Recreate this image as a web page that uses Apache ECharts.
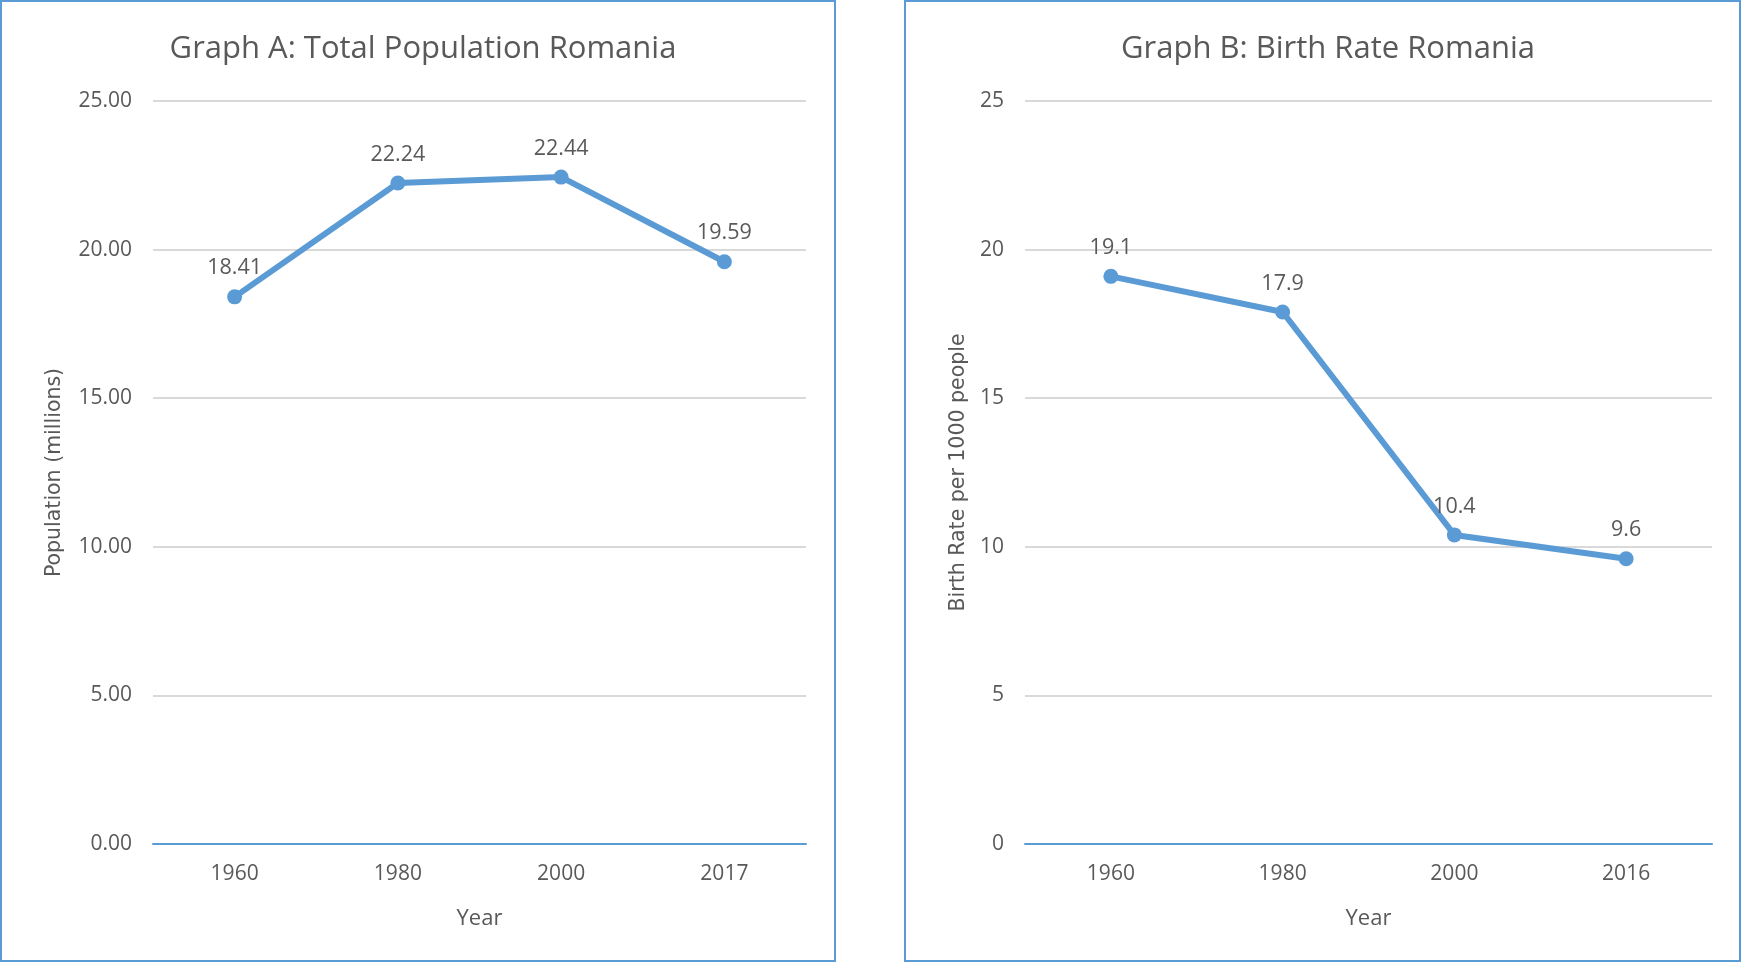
<!DOCTYPE html>
<html>
<head>
<meta charset="utf-8">
<title>Romania: population and birth rate</title>
<script src="https://cdn.jsdelivr.net/npm/echarts@6/dist/echarts.min.js"></script>
<style>
  html, body { margin: 0; padding: 0; background: #fff; }
  #chart { width: 1742px; height: 964px; }
</style>
</head>
<body>
<div id="chart"></div>
<script>
// data
const yearsA = ["1960", "1980", "2000", "2017"];
const populationA = [18.41, 22.24, 22.44, 19.59];

const yearsB = ["1960", "1980", "2000", "2016"];
const birthRateB = [19.1, 17.9, 10.4, 9.6];

const yTicks = [0, 5, 10, 15, 20, 25];

const blue = "#5b9bd5";
const textGrey = "#595959";
const excelFont = "'Open Sans', sans-serif";
const nameFont = "'DejaVu Sans', 'Noto Sans', sans-serif";

const chart = echarts.init(document.getElementById("chart"));

function xAxisFor(idx, cats) {
  return {
    type: "category",
    gridIndex: idx,
    data: cats,
    boundaryGap: true,
    name: "Year",
    nameLocation: "middle",
    nameGap: 64,
    nameTextStyle: { color: textGrey, fontSize: 22, fontFamily: excelFont },
    axisLine: { lineStyle: { color: blue, width: 2 } },
    axisTick: { show: false },
    axisLabel: { color: textGrey, fontSize: 21, fontFamily: excelFont, margin: 20 }
  };
}

function yAxisFor(idx, title, fmt, gap) {
  return {
    type: "value",
    gridIndex: idx,
    min: yTicks[0],
    max: yTicks[yTicks.length - 1],
    interval: 5,
    name: title,
    nameLocation: "middle",
    nameGap: gap,
    nameTextStyle: { color: textGrey, fontSize: 20.5, fontFamily: nameFont },
    axisLine: { show: false },
    axisTick: { show: false },
    splitLine: { lineStyle: { color: "#d9d9d9", width: 2 } },
    axisLabel: { color: textGrey, fontSize: 21, fontFamily: excelFont, margin: 21, formatter: fmt }
  };
}

function lineSeries(idx, values, fmt) {
  return {
    type: "line",
    xAxisIndex: idx,
    yAxisIndex: idx,
    data: values,
    symbol: "circle",
    symbolSize: 15,
    lineStyle: { color: blue, width: 6 },
    itemStyle: { color: blue },
    label: {
      show: true,
      position: "top",
      distance: 10,
      color: textGrey,
      fontSize: 21.5,
      fontFamily: excelFont,
      formatter: fmt
    },
    animation: false
  };
}

const option = {
  animation: false,
  title: [
    {
      text: "Graph A: Total Population Romania",
      left: 418, top: 29, textAlign: "center",
      textStyle: { color: textGrey, fontSize: 31, fontWeight: "normal", fontFamily: excelFont }
    },
    {
      text: "Graph B: Birth Rate Romania",
      left: 1323, top: 29, textAlign: "center",
      textStyle: { color: textGrey, fontSize: 31, fontWeight: "normal", fontFamily: excelFont }
    }
  ],
  graphic: [
    { type: "rect", shape: { x: 1, y: 1, width: 834, height: 960 }, style: { fill: null, stroke: blue, lineWidth: 2 } },
    { type: "rect", shape: { x: 905, y: 1, width: 835, height: 960 }, style: { fill: null, stroke: blue, lineWidth: 2 } }
  ],
  grid: [
    { left: 153, right: 936, top: 101, bottom: 120 },
    { left: 1025, right: 30, top: 101, bottom: 120 }
  ],
  xAxis: [xAxisFor(0, yearsA), xAxisFor(1, yearsB)],
  yAxis: [
    yAxisFor(0, "Population (millions)", v => v.toFixed(2), 88),
    yAxisFor(1, "Birth Rate per 1000 people", v => String(v), 56)
  ],
  series: [
    lineSeries(0, populationA, p => p.value.toFixed(2)),
    lineSeries(1, birthRateB, p => String(p.value))
  ]
};

chart.setOption(option);
</script>
</body>
</html>
